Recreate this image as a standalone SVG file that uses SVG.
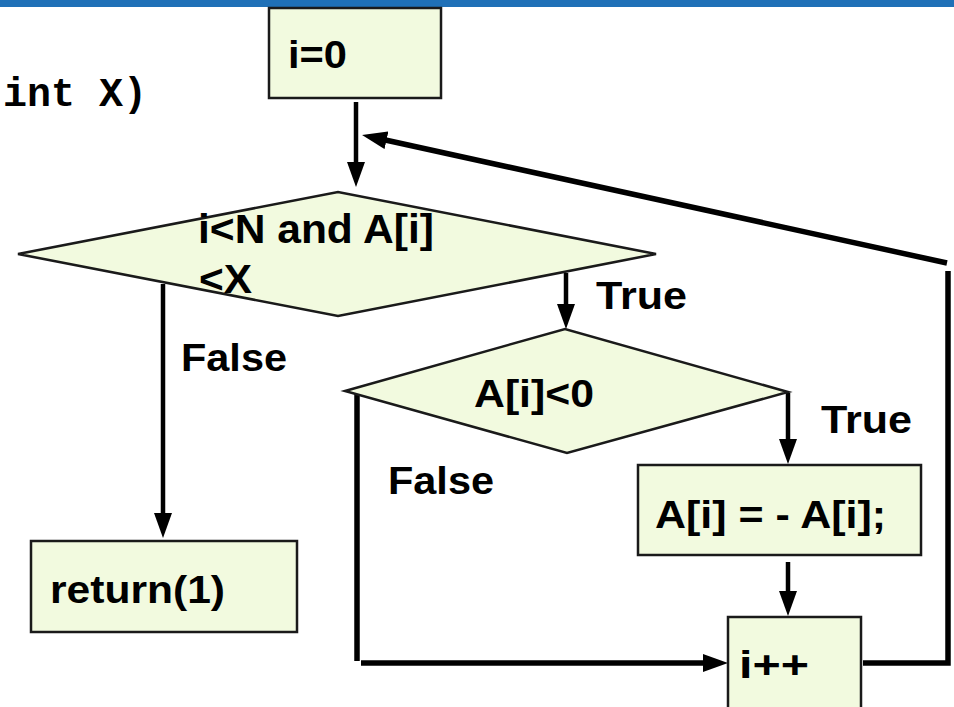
<svg xmlns="http://www.w3.org/2000/svg" width="954" height="707" viewBox="0 0 954 707">
<defs>
<style>
.box{fill:#f2fadf;stroke:#1a1a1a;stroke-width:2.5}
.lbl{font-family:"Liberation Sans",Arial,sans-serif;font-weight:bold;font-size:39px;fill:#000}
.code{font-family:"Liberation Mono","Courier New",monospace;font-weight:bold;font-size:40px;fill:#000}
.ln{fill:none;stroke:#000;stroke-width:4.5}
.thick{fill:none;stroke:#000;stroke-width:5.5}
</style>
<marker id="ah" markerUnits="userSpaceOnUse" markerWidth="25" markerHeight="18" refX="14" refY="9" orient="auto" viewBox="0 0 25 18">
<path d="M0,0 L25,9 L0,18 z" fill="#000"/>
</marker>
</defs>
<rect x="0" y="0" width="954" height="7" fill="#1f70b7"/>
<text class="code" x="3" y="106">int X)</text>
<g id="connectors">
<line class="ln" x1="356" y1="102" x2="356" y2="176" marker-end="url(#ah)"/>
<path class="thick" d="M863,663 H948 V271"/>
<line class="thick" x1="947" y1="263" x2="372.8" y2="137.3" marker-end="url(#ah)"/>
<line class="ln" x1="163" y1="284" x2="163" y2="527" marker-end="url(#ah)"/>
<line class="ln" x1="566" y1="273" x2="566" y2="318" marker-end="url(#ah)"/>
<line class="ln" x1="788" y1="393" x2="788" y2="453" marker-end="url(#ah)"/>
<line class="ln" x1="788" y1="562" x2="788" y2="605" marker-end="url(#ah)"/>
<line class="thick" x1="357" y1="394" x2="357" y2="661"/>
<line class="thick" x1="361" y1="663" x2="717" y2="663" marker-end="url(#ah)"/>
</g>
<g id="init">
<rect class="box" x="269" y="8" width="172" height="90"/>
<text class="lbl" x="288" y="68" textLength="59" lengthAdjust="spacingAndGlyphs">i=0</text>
</g>
<g id="cond1">
<polygon class="box" points="18,254 338,192 656,254 338,316"/>
<text class="lbl" style="font-size:41px" x="198" y="243" textLength="236" lengthAdjust="spacingAndGlyphs">i&lt;N and A[i]</text>
<text class="lbl" style="font-size:41px" x="199" y="293" textLength="53" lengthAdjust="spacingAndGlyphs">&lt;X</text>
</g>
<g id="label-true1"><text class="lbl" x="596" y="309" textLength="91" lengthAdjust="spacingAndGlyphs">True</text></g>
<g id="label-false1"><text class="lbl" x="181" y="371" textLength="106" lengthAdjust="spacingAndGlyphs">False</text></g>
<g id="cond2">
<polygon class="box" points="345,391 565,329 788,392 567,453"/>
<text class="lbl" x="474" y="407" textLength="120" lengthAdjust="spacingAndGlyphs">A[i]&lt;0</text>
</g>
<g id="label-true2"><text class="lbl" x="821" y="433" textLength="91" lengthAdjust="spacingAndGlyphs">True</text></g>
<g id="label-false2"><text class="lbl" x="388" y="494" textLength="106" lengthAdjust="spacingAndGlyphs">False</text></g>
<g id="negate">
<rect class="box" x="638" y="465" width="283" height="90"/>
<text class="lbl" x="655" y="528" textLength="231" lengthAdjust="spacingAndGlyphs">A[i] = - A[i];</text>
</g>
<g id="incr">
<rect class="box" x="728" y="617" width="133" height="100"/>
<text class="lbl" x="739" y="678" textLength="70" lengthAdjust="spacingAndGlyphs">i++</text>
</g>
<g id="ret">
<rect class="box" x="31" y="541" width="266" height="91"/>
<text class="lbl" x="50" y="603" textLength="175" lengthAdjust="spacingAndGlyphs">return(1)</text>
</g>
</svg>
